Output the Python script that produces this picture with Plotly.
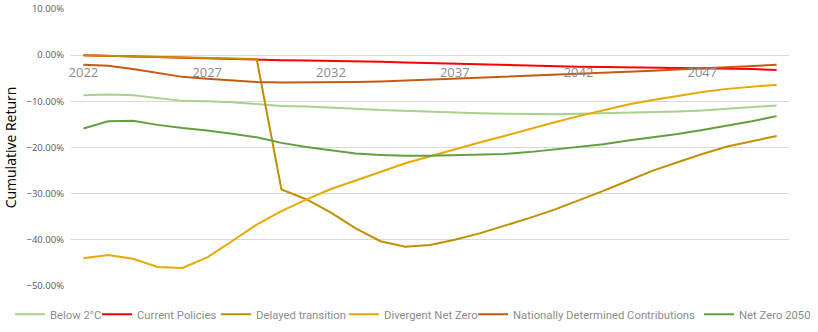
import plotly.graph_objects as go

years = list(range(2022, 2051))

below_2c = [-8.7, -8.5, -8.7, -9.3, -9.9, -10.0, -10.2, -10.6, -11.0, -11.1, -11.3, -11.6, -11.9, -12.1, -12.3,
            -12.5, -12.6, -12.7, -12.8, -12.8, -12.7, -12.6, -12.5, -12.4, -12.2, -12.0, -11.6, -11.3, -10.9]
current_policies = [0.0, -0.15, -0.3, -0.45, -0.6, -0.75, -0.9, -1.0, -1.1, -1.15, -1.2, -1.3, -1.45, -1.6, -1.75,
                    -1.9, -2.0, -2.15, -2.3, -2.4, -2.5, -2.55, -2.6, -2.65, -2.7, -2.8, -2.9, -3.0, -3.2]
delayed_transition = [0.0, -0.1, -0.2, -0.3, -0.45, -0.55, -0.7, -0.85, -29.1, -31.2, -34.1, -37.5, -40.3, -41.5, -41.1,
                      -40.0, -38.6, -37.0, -35.3, -33.5, -31.5, -29.4, -27.2, -25.0, -23.2, -21.4, -19.8, -18.6, -17.5]
divergent_net_zero = [-44.0, -43.3, -44.1, -45.9, -46.1, -43.8, -40.3, -36.7, -33.8, -31.3, -29.0, -27.2, -25.3, -23.4, -21.9,
                      -20.3, -18.9, -17.5, -16.0, -14.6, -13.2, -12.0, -10.7, -9.7, -8.8, -8.0, -7.3, -6.8, -6.4]
ndc = [-2.1, -2.3, -3.0, -3.9, -4.7, -5.1, -5.5, -5.8, -5.9, -5.9, -5.9, -5.8, -5.7, -5.5, -5.3,
       -5.1, -4.9, -4.7, -4.5, -4.3, -4.1, -3.9, -3.7, -3.4, -3.1, -2.85, -2.6, -2.35, -2.1]
net_zero_2050 = [-15.9, -14.3, -14.2, -15.1, -15.8, -16.3, -17.0, -17.8, -19.0, -19.9, -20.6, -21.3, -21.6, -21.8, -21.8,
                 -21.7, -21.6, -21.4, -21.0, -20.4, -19.9, -19.3, -18.5, -17.8, -17.1, -16.2, -15.3, -14.3, -13.2]

series_names = ["Below 2°C", "Current Policies", "Delayed transition", "Divergent Net Zero",
                "Nationally Determined Contributions", "Net Zero 2050"]
series_values = [below_2c, current_policies, delayed_transition, divergent_net_zero, ndc, net_zero_2050]
series_colors = ["#A9D18E", "#FF0000", "#BF9000", "#E9A800", "#C55A11", "#62A03F"]

y_ticks = [10, 0, -10, -20, -30, -40, -50]
x_ticks = [2022, 2027, 2032, 2037, 2042, 2047]

# legend entry text starts (page pixels) for a single-row legend like the reference
legend_text_px = [50, 137, 256, 384, 513, 739]

L, R, T, B, W, H = 71, 29, 9, 46, 818, 332
pw = W - L - R

fig = go.Figure()
legend_layouts = {}
for i, (name, vals, color) in enumerate(zip(series_names, series_values, series_colors)):
    key = "legend" if i == 0 else f"legend{i + 1}"
    fig.add_trace(go.Scatter(
        x=years, y=[v / 100 for v in vals], mode="lines", name=name,
        line=dict(color=color, width=2), legend=key,
    ))
    legend_layouts[key] = dict(
        orientation="h", x=(legend_text_px[i] - 40 - L) / pw, xanchor="left",
        y=-0.05, yanchor="top", bgcolor="rgba(0,0,0,0)",
        font=dict(family="Roboto, sans-serif", size=11.3, color="#8C8C8C"), itemwidth=30,
    )

fig.update_layout(
    width=W, height=H,
    margin=dict(l=L, r=R, t=T, b=B, autoexpand=False),
    paper_bgcolor="white", plot_bgcolor="white",
    font=dict(family="Open Sans, sans-serif", color="#595959"),
    showlegend=True,
    xaxis=dict(
        range=[2021.5, 2050.5], tickvals=x_ticks, ticktext=[str(t) for t in x_ticks],
        showgrid=False, zeroline=False, showline=False, ticks="",
        anchor="free", position=0.832, ticklabelstandoff=7,
        tickfont=dict(size=13, color="#8C8C8C"),
    ),
    yaxis=dict(
        range=[-0.5, 0.1], tickvals=[t / 100 for t in y_ticks], tickformat=".2%",
        showgrid=True, gridcolor="#D9D9D9", gridwidth=1, zeroline=False,
        showline=False, ticks="", ticklabelstandoff=6,
        tickfont=dict(size=9.5, color="#595959"),
        title=dict(text="Cumulative Return", font=dict(size=14, color="#000000"), standoff=6),
    ),
    **legend_layouts,
)

fig.write_html("out.html")
